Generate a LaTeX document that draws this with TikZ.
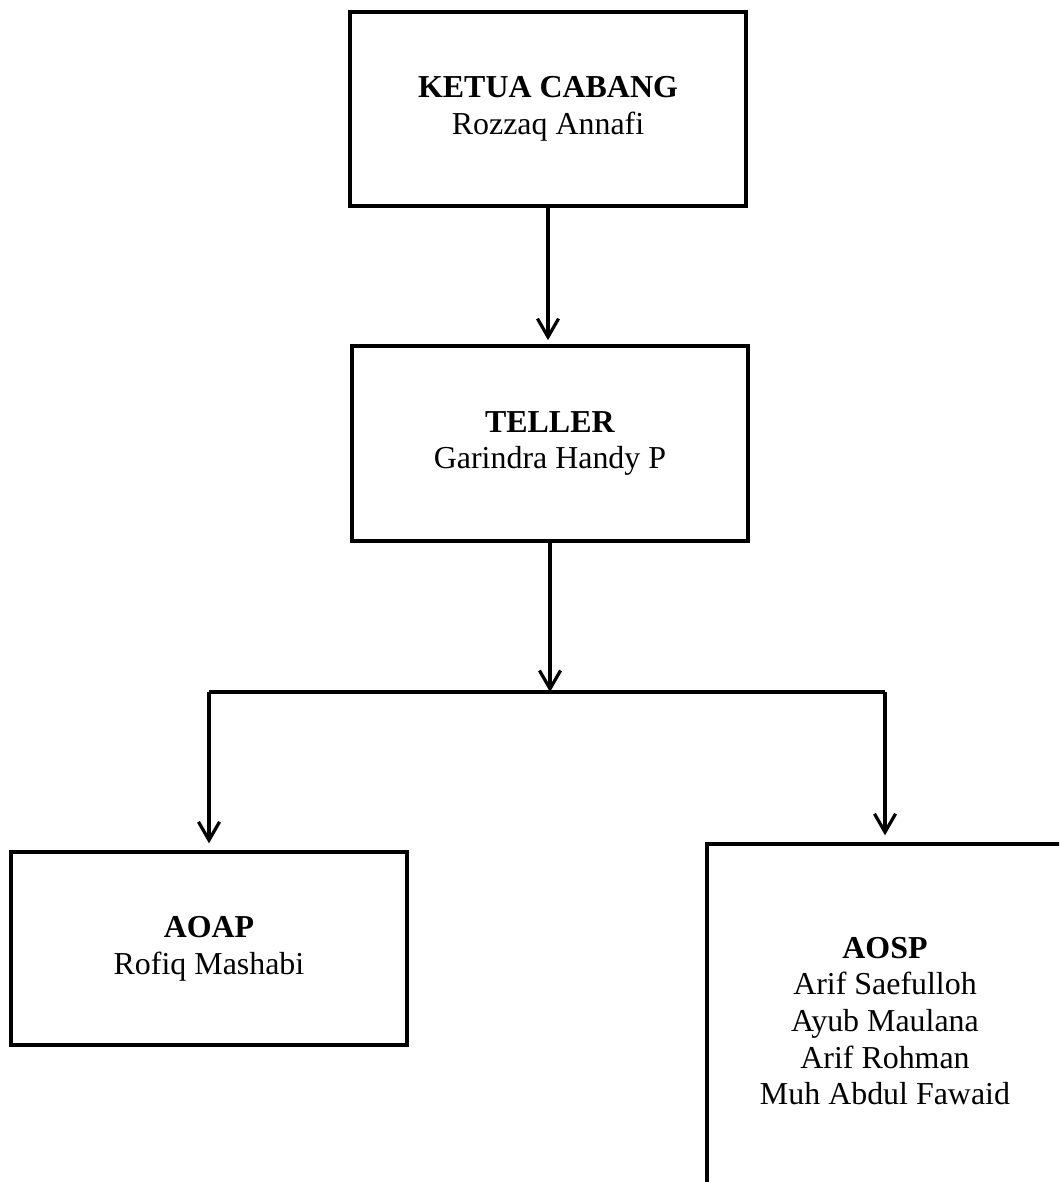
\documentclass[tikz,border=0pt]{standalone}
\usepackage{fontspec}
\setmainfont{Liberation Serif}
\usetikzlibrary{arrows.meta}
\begin{document}
\begin{tikzpicture}[x=0.025cm, y=-0.025cm,
        jabatan/.style={draw, line width=2.3pt, inner sep=0pt, align=center,
            font=\fontsize{22.7}{26.1}\selectfont},
        panah/.style={line width=2.3pt, -{Straight Barb[length=13pt, width=15pt]}}]
    \useasboundingbox (0, 0) rectangle (1059, 1182);
    \clip (0, 0) rectangle (1059, 1182);
    \node[jabatan, minimum width=9.9cm, minimum height=4.85cm] (ketua) at (548, 109)
        {\textbf{KETUA CABANG}\\Rozzaq Annafi};
    \node[jabatan, minimum width=9.9cm, minimum height=4.875cm] (teller) at (550, 443.5)
        {\textbf{TELLER}\\Garindra Handy P};
    \node[jabatan, minimum width=9.9cm, minimum height=4.825cm] (aoap) at (209, 948.5)
        {\textbf{AOAP}\\Rofiq Mashabi};
    \node[jabatan, minimum width=8.9cm, minimum height=8.85cm] (aosp) at (885, 1021)
        {\textbf{AOSP}\\Arif Saefulloh\\Ayub Maulana\\Arif Rohman\\Muh Abdul Fawaid};
    \coordinate (cabang) at (550, 692);
    \draw[panah, shorten >=3pt] (ketua.south) -- (ketua.south |- teller.north);
    \draw[panah] (teller.south) -- (cabang);
    \draw[line width=2.3pt] (aoap.north |- cabang) -- (aosp.north |- cabang);
    \foreach \n in {aoap, aosp} {
        \draw[panah, shorten >=5pt] (\n.north |- cabang) -- (\n.north);
    }
\end{tikzpicture}
\end{document}
